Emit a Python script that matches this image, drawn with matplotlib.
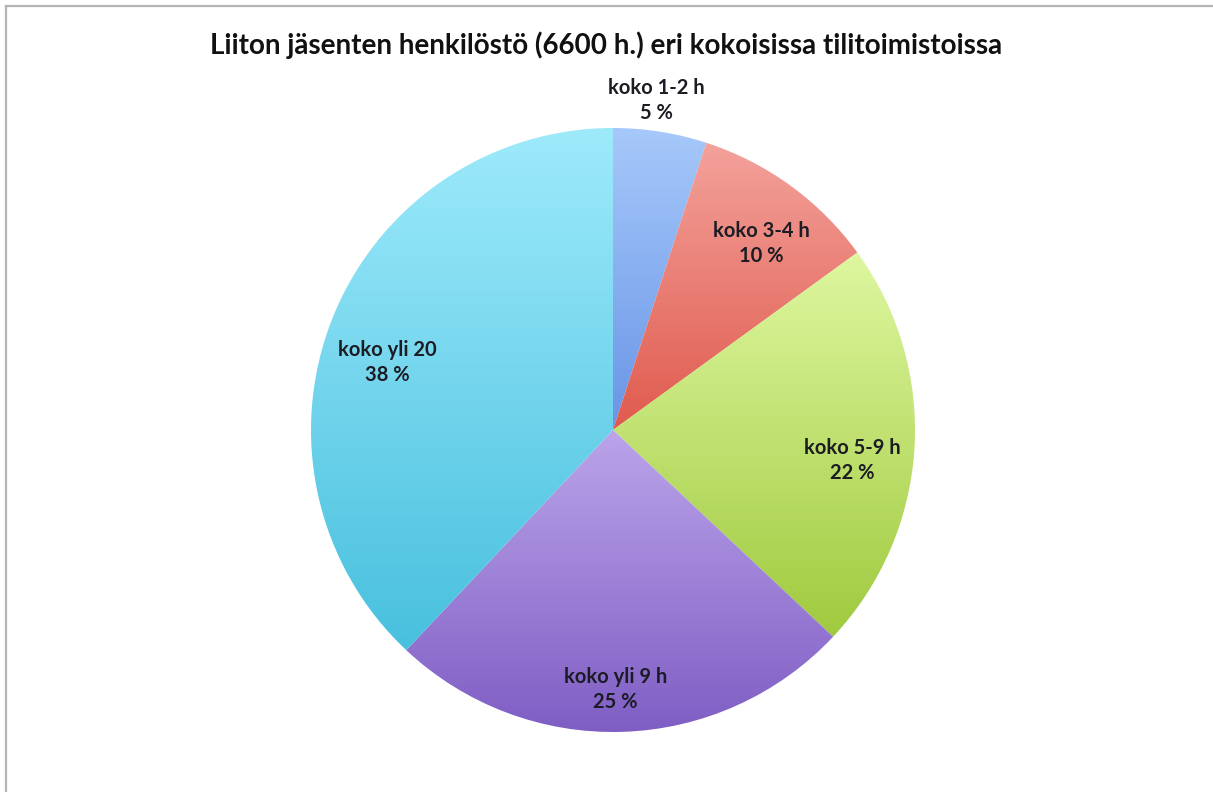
import numpy as np
import matplotlib
matplotlib.use("Agg")
import matplotlib.pyplot as plt
from matplotlib.colors import LinearSegmentedColormap

title = "Liiton jäsenten henkilöstö (6600 h.) eri kokoisissa tilitoimistoissa"
labels = ["koko 1-2 h", "koko 3-4 h", "koko 5-9 h", "koko yli 9 h", "koko yli 20"]
shares = [5, 10, 22, 25, 38]
# gradient colours per slice (top, bottom)
top_cols = ["#a6c8fa", "#f3a29b", "#def7a0", "#bba4ea", "#9eeafb"]
bot_cols = ["#6995e6", "#e05a4e", "#a0ca3e", "#7f5ec4", "#48c0de"]
# label placement: radius and angle shift (deg) from slice middle
label_r = [1.1, 0.79, 0.80, 0.86, 0.78]
label_dth = [1.5, -2.5, -3.6, -1.3, 4.9]

W, H = 1213, 792
fig = plt.figure(figsize=(W/100, H/100), dpi=100)
plt.rcParams['font.family'] = ['Lato', 'DejaVu Sans']

cx, cy, r = 613, 430, 302
ax = fig.add_axes([(cx-r)/W, (H-cy-r)/H, 2*r/W, 2*r/H])
wedges, _ = ax.pie(shares, startangle=90, counterclock=False, radius=1,
                   wedgeprops=dict(linewidth=0, edgecolor="none"))
ax.set_aspect("equal"); ax.axis("off")

for w, t, b in zip(wedges, top_cols, bot_cols):
    w.set_facecolor("none")
    # vertical gradient over the wedge's bounding box
    th = np.linspace(np.radians(w.theta1), np.radians(w.theta2), 200)
    ys = np.concatenate([[0], np.sin(th)])
    xs = np.concatenate([[0], np.cos(th)])
    cmap = LinearSegmentedColormap.from_list("g", [b, t])
    grad = np.linspace(0, 1, 256).reshape(-1, 1)
    im = ax.imshow(grad, cmap=cmap, origin="lower", aspect="auto",
                   extent=[xs.min(), xs.max(), ys.min(), ys.max()], zorder=1)
    im.set_clip_path(w)

ax.set_xlim(-1, 1); ax.set_ylim(-1, 1)

for w, lab, s, lr, dth in zip(wedges, labels, shares, label_r, label_dth):
    mid = np.radians((w.theta1 + w.theta2) / 2 + dth)
    ax.text(lr*np.cos(mid), lr*np.sin(mid), f"{lab}\n{s} %", ha="center", va="center",
            fontsize=14.5, fontweight="bold", color="#1c1c24", linespacing=1.3,
            zorder=3, clip_on=False)

fig.text(606/W, 1 - 45/H, title, ha="center", va="center", fontsize=20,
         fontweight="bold", color="#111111")

# chart frame (top and left edges visible)
fig.add_artist(plt.Line2D([6/W, 6/W], [0, 1 - 6/H], color="#b4b4b4", lw=1.6))
fig.add_artist(plt.Line2D([6/W, 1], [1 - 6/H, 1 - 6/H], color="#b4b4b4", lw=1.6))

fig.savefig("out.png", dpi=100)
